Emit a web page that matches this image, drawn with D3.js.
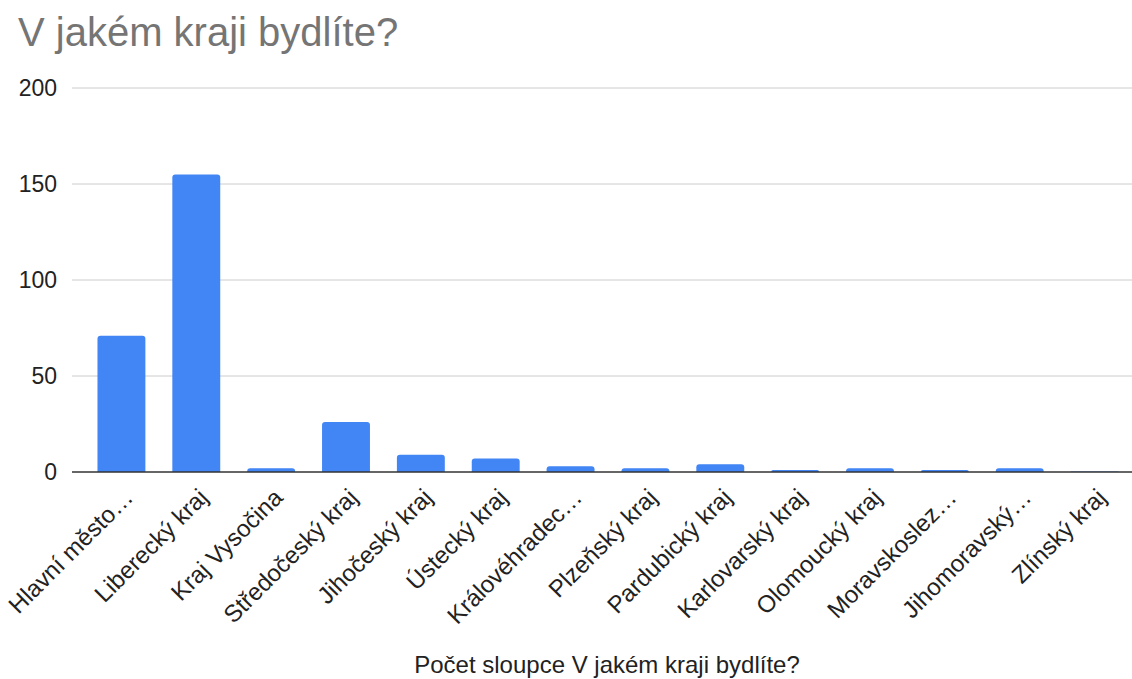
<!DOCTYPE html>
<html><head><meta charset="utf-8">
<script src="https://cdn.jsdelivr.net/npm/d3@7"></script>
<style>body{margin:0;background:#fff;}svg{display:block;font-family:"Liberation Sans",Arial,sans-serif;}</style>
</head><body><svg id="c" width="1132" height="679"></svg>
<script>
const categories = ["Hlavní město…","Liberecký kraj","Kraj Vysočina","Středočeský kraj","Jihočeský kraj","Ústecký kraj","Královéhradec…","Plzeňský kraj","Pardubický kraj","Karlovarský kraj","Olomoucký kraj","Moravskoslez…","Jihomoravský…","Zlínský kraj"];
const values = [71,155,2,26,9,7,3,2,4,1,2,1,2,0];
const yTicks = [0,50,100,150,200];
const title = "V jakém kraji bydlíte?";
const xTitle = "Počet sloupce V jakém kraji bydlíte?";

const svg = d3.select("#c");
const x = d3.scaleBand().domain(categories).range([84,1132]).paddingInner(0.36).paddingOuter(0.18);
const y = d3.scaleLinear().domain([0,200]).range([472,88]);

svg.append("text").attr("x",18).attr("y",46).attr("fill","#757575").attr("font-size",40).text(title);

const yAxis = d3.axisLeft(y).tickValues(yTicks).tickSize(0).tickPadding(15);
const gy = svg.append("g").attr("transform","translate(72,0)").call(yAxis);
gy.select(".domain").remove();
gy.selectAll("text").attr("font-size",23).attr("fill","#222").attr("font-family","Liberation Sans, Arial, sans-serif");

svg.append("g").selectAll("line").data(yTicks.filter(d=>d>0)).join("line")
  .attr("x1",72).attr("x2",1132).attr("y1",d=>y(d)).attr("y2",d=>y(d))
  .attr("stroke","#cccccc").attr("stroke-width",1);

const r = 3;
svg.append("g").selectAll("path").data(values).join("path")
  .attr("fill","#4285f4")
  .attr("d",(d,i)=>{
    const x0 = x(categories[i]), w = x.bandwidth(), yt = y(d), yb = y(0);
    const h = yb-yt; const rr = Math.min(r,h, w/2);
    if(h<=0) return `M${x0},${yb}h${w}v-0.6h${-w}Z`;
    return `M${x0},${yb}V${yt+rr}Q${x0},${yt} ${x0+rr},${yt}H${x0+w-rr}Q${x0+w},${yt} ${x0+w},${yt+rr}V${yb}Z`;
  });

svg.append("line").attr("x1",72).attr("x2",1132).attr("y1",y(0)).attr("y2",y(0)).attr("stroke","#333").attr("stroke-width",1.3);

const xAxis = d3.axisBottom(x).tickSize(0).tickPadding(0);
const gx = svg.append("g").attr("transform","translate(0,472)").call(xAxis);
gx.select(".domain").remove();
gx.selectAll("text").attr("font-size",24).attr("fill","#222").attr("font-family","Liberation Sans, Arial, sans-serif")
  .attr("text-anchor","end").attr("dy",null).attr("y",0)
  .attr("transform","translate(13,27) rotate(-45)");

svg.append("text").attr("x",607).attr("y",673).attr("text-anchor","middle").attr("font-size",24).attr("fill","#222").text(xTitle);
</script></body></html>
